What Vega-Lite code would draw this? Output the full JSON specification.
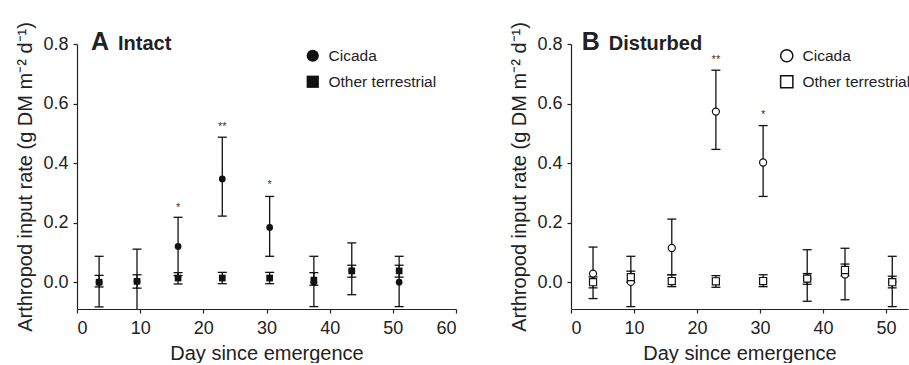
{
  "$schema": "https://vega.github.io/schema/vega-lite/v6.json",
  "background": "white",
  "padding": {"left": 15, "top": 21, "right": 0, "bottom": 0},
  "spacing": 52,
  "config": {
    "view": {"stroke": null},
    "font": "Liberation Sans",
    "axis": {"labelFont": "Liberation Sans", "titleFont": "Liberation Sans", "labelFontSize": 18, "titleFontSize": 20, "titleFontWeight": "normal", "labelColor": "#222", "titleColor": "#222", "domainColor": "#222", "tickColor": "#222", "tickSize": 4, "grid": false, "domainWidth": 1.2, "tickWidth": 1.2},
    "axisX": {"labelPadding": 6, "titlePadding": 6},
    "axisY": {"labelPadding": 5, "titlePadding": 7}
  },
  "datasets": {
    "pts": [
      {"panel": "A", "series": "Cicada", "day": 3.5, "value": 0.0, "lo": -0.083, "hi": 0.087},
      {"panel": "A", "series": "Cicada", "day": 9.5, "value": 0.003, "lo": -0.105, "hi": 0.111},
      {"panel": "A", "series": "Cicada", "day": 16, "value": 0.12, "lo": 0.022, "hi": 0.218},
      {"panel": "A", "series": "Cicada", "day": 23, "value": 0.347, "lo": 0.222, "hi": 0.487},
      {"panel": "A", "series": "Cicada", "day": 30.5, "value": 0.184, "lo": 0.087, "hi": 0.288},
      {"panel": "A", "series": "Cicada", "day": 37.5, "value": 0.0, "lo": -0.082, "hi": 0.087},
      {"panel": "A", "series": "Cicada", "day": 43.5, "value": 0.038, "lo": -0.042, "hi": 0.132},
      {"panel": "A", "series": "Cicada", "day": 51, "value": 0.0, "lo": -0.082, "hi": 0.087},
      {"panel": "A", "series": "Other terrestrial", "day": 3.5, "value": 0.0, "lo": -0.016, "hi": 0.023},
      {"panel": "A", "series": "Other terrestrial", "day": 9.5, "value": 0.003, "lo": -0.02, "hi": 0.025},
      {"panel": "A", "series": "Other terrestrial", "day": 16, "value": 0.014, "lo": -0.006, "hi": 0.032},
      {"panel": "A", "series": "Other terrestrial", "day": 23, "value": 0.014, "lo": -0.005, "hi": 0.033},
      {"panel": "A", "series": "Other terrestrial", "day": 30.5, "value": 0.014, "lo": -0.005, "hi": 0.033},
      {"panel": "A", "series": "Other terrestrial", "day": 37.5, "value": 0.007, "lo": -0.01, "hi": 0.032},
      {"panel": "A", "series": "Other terrestrial", "day": 43.5, "value": 0.038, "lo": 0.017, "hi": 0.057},
      {"panel": "A", "series": "Other terrestrial", "day": 51, "value": 0.038, "lo": 0.017, "hi": 0.057},
      {"panel": "B", "series": "Cicada", "day": 3.5, "value": 0.029, "lo": -0.055, "hi": 0.118},
      {"panel": "B", "series": "Cicada", "day": 9.5, "value": 0.001, "lo": -0.082, "hi": 0.087},
      {"panel": "B", "series": "Cicada", "day": 16, "value": 0.115, "lo": 0.025, "hi": 0.212},
      {"panel": "B", "series": "Cicada", "day": 23, "value": 0.573, "lo": 0.446, "hi": 0.712},
      {"panel": "B", "series": "Cicada", "day": 30.5, "value": 0.402, "lo": 0.288, "hi": 0.526},
      {"panel": "B", "series": "Cicada", "day": 37.5, "value": 0.0125, "lo": -0.064, "hi": 0.109},
      {"panel": "B", "series": "Cicada", "day": 43.5, "value": 0.026, "lo": -0.059, "hi": 0.114},
      {"panel": "B", "series": "Cicada", "day": 51, "value": 0.001, "lo": -0.082, "hi": 0.087},
      {"panel": "B", "series": "Other terrestrial", "day": 3.5, "value": 0.0, "lo": -0.019, "hi": 0.018},
      {"panel": "B", "series": "Other terrestrial", "day": 9.5, "value": 0.017, "lo": 0.0, "hi": 0.037},
      {"panel": "B", "series": "Other terrestrial", "day": 16, "value": 0.004, "lo": -0.015, "hi": 0.025},
      {"panel": "B", "series": "Other terrestrial", "day": 23, "value": 0.003, "lo": -0.017, "hi": 0.022},
      {"panel": "B", "series": "Other terrestrial", "day": 30.5, "value": 0.004, "lo": -0.015, "hi": 0.025},
      {"panel": "B", "series": "Other terrestrial", "day": 37.5, "value": 0.012, "lo": -0.007, "hi": 0.029},
      {"panel": "B", "series": "Other terrestrial", "day": 43.5, "value": 0.041, "lo": 0.021, "hi": 0.061},
      {"panel": "B", "series": "Other terrestrial", "day": 51, "value": 0.0, "lo": -0.019, "hi": 0.02}
    ],
    "stars": [
      {"panel": "A", "day": 16, "y": 0.24, "label": "*"},
      {"panel": "A", "day": 23, "y": 0.512, "label": "**"},
      {"panel": "A", "day": 30.5, "y": 0.315, "label": "*"},
      {"panel": "B", "day": 23, "y": 0.735, "label": "**"},
      {"panel": "B", "day": 30.5, "y": 0.55, "label": "*"}
    ]
  },
  "resolve": {"scale": {"x": "independent", "y": "independent", "shape": "independent"}, "legend": {"shape": "independent"}},
  "hconcat": [
    {
      "width": 379,
      "height": 265,
      "layer": [
        {
          "data": {"name": "pts"},
          "transform": [{"filter": "datum.panel == 'A'"}],
          "mark": {"type": "rule", "color": "#111", "strokeWidth": 1.3, "clip": true},
          "encoding": {
            "x": {"field": "day", "type": "quantitative", "scale": {"domain": [0, 60], "nice": false}, "axis": {"values": [0, 10, 20, 30, 40, 50, 60], "title": "Day since emergence"}},
            "y": {"field": "lo", "type": "quantitative", "scale": {"domain": [-0.09, 0.8], "nice": false, "zero": false}, "axis": {"values": [0, 0.2, 0.4, 0.6, 0.8], "format": ".1f", "title": "Arthropod input rate (g DM m⁻² d⁻¹)"}},
            "y2": {"field": "hi"}
          }
        },
        {
          "data": {"name": "pts"},
          "transform": [{"filter": "datum.panel == 'A'"}],
          "mark": {"type": "tick", "orient": "horizontal", "size": 9, "thickness": 1.3, "color": "#111", "opacity": 1, "clip": true},
          "encoding": {"x": {"field": "day", "type": "quantitative"}, "y": {"field": "hi", "type": "quantitative"}}
        },
        {
          "data": {"name": "pts"},
          "transform": [{"filter": "datum.panel == 'A'"}],
          "mark": {"type": "tick", "orient": "horizontal", "size": 9, "thickness": 1.3, "color": "#111", "opacity": 1, "clip": true},
          "encoding": {"x": {"field": "day", "type": "quantitative"}, "y": {"field": "lo", "type": "quantitative"}}
        },
        {
          "data": {"name": "pts"},
          "transform": [{"filter": "datum.panel == 'A'"}],
          "mark": {"type": "point", "filled": true, "size": 45, "color": "#111", "opacity": 1},
          "encoding": {
            "x": {"field": "day", "type": "quantitative"},
            "y": {"field": "value", "type": "quantitative"},
            "shape": {"field": "series", "type": "nominal", "scale": {"domain": ["Cicada", "Other terrestrial"], "range": ["circle", "square"]},
              "legend": {"orient": "none", "legendX": 228, "legendY": 4, "title": null, "symbolSize": 150, "symbolFillColor": "#111", "symbolStrokeColor": "#111", "labelFontSize": 15.5, "labelFont": "Liberation Sans", "labelColor": "#222", "rowPadding": 7, "labelOffset": 8, "padding": 0}}
          }
        },
        {
          "data": {"name": "stars"},
          "transform": [{"filter": "datum.panel == 'A'"}],
          "mark": {"type": "text", "fontSize": 11, "color": "#333", "baseline": "alphabetic"},
          "encoding": {"x": {"field": "day", "type": "quantitative"}, "y": {"field": "y", "type": "quantitative"}, "text": {"field": "label"}}
        },
        {
          "data": {"values": [{}]},
          "mark": {"type": "text", "text": "A", "fontSize": 25, "fontWeight": "bold", "align": "left", "baseline": "alphabetic", "color": "#222"},
          "encoding": {"x": {"datum": 2.2, "type": "quantitative"}, "y": {"datum": 0.779, "type": "quantitative"}}
        },
        {
          "data": {"values": [{}]},
          "mark": {"type": "text", "text": "Intact", "fontSize": 20, "fontWeight": "bold", "align": "left", "baseline": "alphabetic", "color": "#222"},
          "encoding": {"x": {"datum": 6.5, "type": "quantitative"}, "y": {"datum": 0.779, "type": "quantitative"}}
        }
      ]
    },
    {
      "width": 337,
      "height": 265,
      "layer": [
        {
          "data": {"name": "pts"},
          "transform": [{"filter": "datum.panel == 'B'"}],
          "mark": {"type": "rule", "color": "#111", "strokeWidth": 1.3, "clip": true},
          "encoding": {
            "x": {"field": "day", "type": "quantitative", "scale": {"domain": [0, 53.5], "nice": false}, "axis": {"values": [0, 10, 20, 30, 40, 50], "title": "Day since emergence"}},
            "y": {"field": "lo", "type": "quantitative", "scale": {"domain": [-0.09, 0.8], "nice": false, "zero": false}, "axis": {"values": [0, 0.2, 0.4, 0.6, 0.8], "format": ".1f", "title": "Arthropod input rate (g DM m⁻² d⁻¹)"}},
            "y2": {"field": "hi"}
          }
        },
        {
          "data": {"name": "pts"},
          "transform": [{"filter": "datum.panel == 'B'"}],
          "mark": {"type": "tick", "orient": "horizontal", "size": 9, "thickness": 1.3, "color": "#111", "opacity": 1, "clip": true},
          "encoding": {"x": {"field": "day", "type": "quantitative"}, "y": {"field": "hi", "type": "quantitative"}}
        },
        {
          "data": {"name": "pts"},
          "transform": [{"filter": "datum.panel == 'B'"}],
          "mark": {"type": "tick", "orient": "horizontal", "size": 9, "thickness": 1.3, "color": "#111", "opacity": 1, "clip": true},
          "encoding": {"x": {"field": "day", "type": "quantitative"}, "y": {"field": "lo", "type": "quantitative"}}
        },
        {
          "data": {"name": "pts"},
          "transform": [{"filter": "datum.panel == 'B'"}],
          "mark": {"type": "point", "filled": false, "fill": "white", "fillOpacity": 1, "stroke": "#111", "strokeWidth": 1.2, "size": 50, "opacity": 1},
          "encoding": {
            "x": {"field": "day", "type": "quantitative"},
            "y": {"field": "value", "type": "quantitative"},
            "shape": {"field": "series", "type": "nominal", "scale": {"domain": ["Cicada", "Other terrestrial"], "range": ["circle", "square"]},
              "legend": {"orient": "none", "legendX": 208, "legendY": 4, "title": null, "symbolSize": 150, "labelFontSize": 15.5, "labelFont": "Liberation Sans", "labelColor": "#222", "rowPadding": 7, "labelOffset": 8, "padding": 0,
                "encode": {"symbols": {"update": {"fill": {"value": "white"}, "stroke": {"value": "#111"}, "strokeWidth": {"value": 1.3}, "opacity": {"value": 1}}}}}}
          }
        },
        {
          "data": {"name": "stars"},
          "transform": [{"filter": "datum.panel == 'B'"}],
          "mark": {"type": "text", "fontSize": 11, "color": "#333", "baseline": "alphabetic"},
          "encoding": {"x": {"field": "day", "type": "quantitative"}, "y": {"field": "y", "type": "quantitative"}, "text": {"field": "label"}}
        },
        {
          "data": {"values": [{}]},
          "mark": {"type": "text", "text": "B", "fontSize": 25, "fontWeight": "bold", "align": "left", "baseline": "alphabetic", "color": "#222"},
          "encoding": {"x": {"datum": 1.7, "type": "quantitative"}, "y": {"datum": 0.779, "type": "quantitative"}}
        },
        {
          "data": {"values": [{}]},
          "mark": {"type": "text", "text": "Disturbed", "fontSize": 20, "fontWeight": "bold", "align": "left", "baseline": "alphabetic", "color": "#222"},
          "encoding": {"x": {"datum": 6.0, "type": "quantitative"}, "y": {"datum": 0.779, "type": "quantitative"}}
        }
      ]
    }
  ]
}
